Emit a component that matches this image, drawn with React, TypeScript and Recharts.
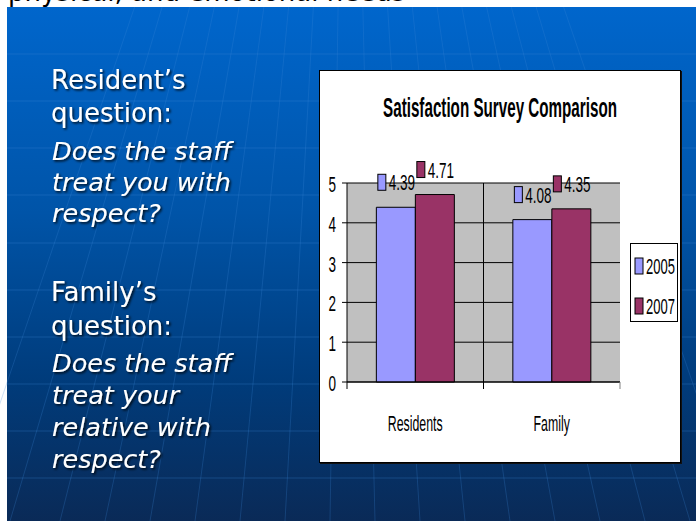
import React from "react"
import { BarChart, Bar, XAxis, YAxis, CartesianGrid, Legend, LabelList } from "recharts"

// chart data
const categories = ["Residents", "Family"]
const values2005 = [4.39, 4.08]
const values2007 = [4.71, 4.35]
const yTicks = [0, 1, 2, 3, 4, 5]
const seriesNames = ["2005", "2007"]
const seriesColors = ["#9999FF", "#993366"]

const title = "Satisfaction Survey Comparison"
const residentLines = ["Resident\u2019s", "question:"]
const residentQuestion = ["Does the staff", "treat you with", "respect?"]
const familyLines = ["Family\u2019s", "question:"]
const familyQuestion = ["Does the staff", "treat your", "relative with", "respect?"]

const data = categories.map((c, i) => ({ category: c, v2005: values2005[i], v2007: values2007[i] }))

const CHART_W = 360
const CHART_H = 391
const MARGIN = { top: 112, right: 60, bottom: 0, left: 0 }
const YAXIS_W = 27
const BAND = (CHART_W - MARGIN.left - MARGIN.right - YAXIS_W) / categories.length

const FONT = "'Liberation Sans', Arial, sans-serif"

// old slide text is squashed tall, so draw it scaled
function Stretch({ x, y, text, anchor = "start", size = 13, sx = 1, sy = 1.65, bold = false }: any) {
  return (
    <text
      transform={`translate(${x},${y}) scale(${sx},${sy})`}
      textAnchor={anchor}
      fontFamily={FONT}
      fontSize={size}
      fontWeight={bold ? 700 : 400}
      fill="#000"
    >
      {text}
    </text>
  )
}

function YTick(props: any) {
  const { x, y, payload } = props
  return <Stretch x={x} y={y + 9} text={String(payload.value)} anchor="end" size={13.5} sy={1.6} />
}

function XTick(props: any) {
  const { x, y, payload, index } = props
  const last = index === categories.length - 1
  return (
    <g>
      <line x1={x - BAND / 2} x2={x - BAND / 2} y1={y} y2={y + 7} stroke="#000" />
      {last && <line x1={x + BAND / 2} x2={x + BAND / 2} y1={y} y2={y + 7} stroke="#808080" />}
      <Stretch x={x} y={y + 49} text={payload.value} anchor="middle" size={13} sx={0.95} sy={1.7} />
    </g>
  )
}

function valueLabel(color: string) {
  return (props: any) => {
    const { x, y, width, value } = props
    const cx = x + width / 2
    const cy = y - 25
    return (
      <g>
        <rect x={cx - 18} y={cy - 8} width={8} height={16} fill={color} stroke="#000" />
        <Stretch x={cx - 7} y={cy + 8} text={String(value)} size={13.5} sy={1.6} />
      </g>
    )
  }
}

function LegendBox(props: any) {
  const items = props.payload || []
  return (
    <svg width={48} height={79} style={{ display: "block" }}>
      <rect x={0.5} y={0.5} width={47} height={78} fill="#fff" stroke="#000" />
      {items.map((it: any, i: number) => (
        <g key={it.value}>
          <rect x={5} y={15 + i * 40} width={8} height={16} fill={it.color} stroke="#000" />
          <Stretch x={16} y={31 + i * 40} text={it.value} size={13} sy={1.7} />
        </g>
      ))}
    </svg>
  )
}

const hLines = [54, 101, 148, 195, 243, 290, 337, 384, 431, 478]
const meridians = [-40, 10, 60, 105, 150, 195, 240, 285, 330, 375, 420, 465, 510, 555, 600, 645, 690, 740]

function SlideBackground() {
  const textStyle = { fill: "#fff", fontFamily: "'DejaVu Sans', Verdana, sans-serif", filter: "url(#shadow)" }
  return (
    <svg width={696} height={521} style={{ position: "absolute", left: 0, top: 0 }}>
      <defs>
        <linearGradient id="bg" x1="0" y1="0" x2="0" y2="1">
          <stop offset="0" stopColor="#0066CC" />
          <stop offset="0.4" stopColor="#0054A8" />
          <stop offset="0.72" stopColor="#003C7C" />
          <stop offset="1" stopColor="#0A2A57" />
        </linearGradient>
        <filter id="shadow" x="-10%" y="-30%" width="130%" height="180%">
          <feDropShadow dx="1.5" dy="1.5" stdDeviation="0.8" floodColor="#000" floodOpacity="0.85" />
        </filter>
      </defs>
      <rect x={0} y={0} width={696} height={521} fill="#fff" />
      <text x={8} y={1} fontFamily="'DejaVu Sans', sans-serif" fontSize={26} fill="#000">
        physical, and emotional needs
      </text>
      <rect x={7} y={7} width={689} height={514} fill="url(#bg)" />
      {hLines.map((y) => (
        <line key={y} x1={7} x2={696} y1={y} y2={y} stroke="#3D86D6" strokeOpacity={0.3} />
      ))}
      {meridians.map((xb) => (
        <line key={xb} x1={348 + (xb - 348) * 0.55} y1={7} x2={xb} y2={521} stroke="#3D86D6" strokeOpacity={0.25} />
      ))}
      <g style={textStyle as any} fontSize={26}>
        <text x={51} y={89}>{residentLines[0]}</text>
        <text x={51} y={122}>{residentLines[1]}</text>
        <text x={51} y={301}>{familyLines[0]}</text>
        <text x={51} y={335}>{familyLines[1]}</text>
      </g>
      <g style={textStyle as any} fontSize={25.5} fontStyle="italic">
        {residentQuestion.map((t, i) => (
          <text key={"r" + i} x={52} y={160 + i * 31}>{t}</text>
        ))}
        {familyQuestion.map((t, i) => (
          <text key={"f" + i} x={52} y={372 + i * 32}>{t}</text>
        ))}
      </g>
    </svg>
  )
}

export default function App() {
  return (
    <div style={{ position: "fixed", left: 0, top: 0, width: 696, height: 521, overflow: "hidden" }}>
      <SlideBackground />
      <div
        style={{
          position: "absolute",
          left: 319,
          top: 70,
          width: CHART_W,
          height: CHART_H,
          background: "#fff",
          border: "1px solid #000",
          boxShadow: "1px 1px 0 #111",
        }}
      >
        <BarChart
          width={CHART_W}
          height={CHART_H}
          data={data}
          margin={MARGIN}
          barGap={0}
          barCategoryGap="21.5%"
        >
          <CartesianGrid
            stroke="#000"
            fill="#C0C0C0"
            fillOpacity={1}
            verticalCoordinatesGenerator={({ offset }: any) => [offset.left + offset.width / 2]}
          />
          <XAxis
            dataKey="category"
            height={80}
            axisLine={{ stroke: "#000" }}
            tickLine={false}
            tickSize={0}
            tickMargin={0}
            interval={0}
            tick={<XTick />}
          />
          <YAxis
            width={YAXIS_W}
            domain={[0, 5]}
            ticks={yTicks}
            interval={0}
            axisLine={{ stroke: "#000" }}
            tickLine={{ stroke: "#000" }}
            tickSize={5}
            tickMargin={6}
            tick={<YTick />}
          />
          <Legend
            layout="horizontal"
            align="center"
            verticalAlign="middle"
            width={48}
            height={79}
            wrapperStyle={{ left: 310, top: 172, width: 48, height: 79 }}
            content={<LegendBox />}
          />
          <Bar dataKey="v2005" name={seriesNames[0]} fill={seriesColors[0]} stroke="#000" strokeWidth={1} isAnimationActive={false}>
            <LabelList dataKey="v2005" content={valueLabel(seriesColors[0])} />
          </Bar>
          <Bar dataKey="v2007" name={seriesNames[1]} fill={seriesColors[1]} stroke="#000" strokeWidth={1} isAnimationActive={false}>
            <LabelList dataKey="v2007" content={valueLabel(seriesColors[1])} />
          </Bar>
        </BarChart>
        <svg width={CHART_W} height={80} style={{ position: "absolute", left: 0, top: 0, pointerEvents: "none" }}>
          <Stretch x={180} y={46} text={title} anchor="middle" size={15.2} sy={1.83} bold />
        </svg>
      </div>
    </div>
  )
}
